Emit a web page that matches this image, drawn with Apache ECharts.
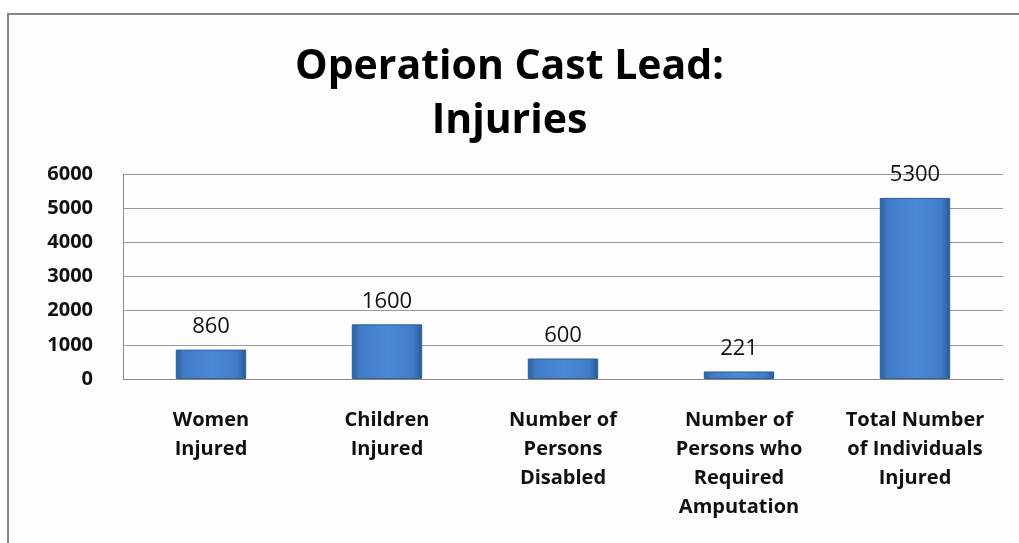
<!DOCTYPE html>
<html>
<head>
<meta charset="utf-8">
<script src="https://cdn.jsdelivr.net/npm/echarts@6/dist/echarts.min.js"></script>
<style>
  html, body { margin: 0; padding: 0; background: #fff; }
  #chart { width: 1019px; height: 543px; }
</style>
</head>
<body>
<div id="chart"></div>
<script>
// data
const categories = [
  'Women\nInjured',
  'Children\nInjured',
  'Number of\nPersons\nDisabled',
  'Number of\nPersons who\nRequired\nAmputation',
  'Total Number\nof Individuals\nInjured'
]
const injuries = [860, 1600, 600, 221, 5300]
const yTicks = [0, 1000, 2000, 3000, 4000, 5000, 6000]

const font = '"Open Sans", "Noto Sans", sans-serif'

let myChart = echarts.init(document.getElementById('chart'))
let option = {
  backgroundColor: '#ffffff',
  animation: false,
  title: {
    text: 'Operation Cast Lead:\nInjuries',
    left: 'center',
    top: 35,
    textStyle: {
      fontFamily: font,
      fontWeight: 'bold',
      fontSize: 41,
      lineHeight: 54,
      color: '#000'
    }
  },
  graphic: [
    {
      // outer chart frame
      type: 'rect',
      z: -10,
      shape: { x: 8, y: 14, width: 1030, height: 560 },
      style: { fill: '#fdfdfd', stroke: '#858585', lineWidth: 2 }
    }
  ],
  grid: {
    left: 123,
    right: 16,
    top: 174,
    bottom: 164
  },
  xAxis: {
    type: 'category',
    data: categories,
    axisLine: { show: true, lineStyle: { color: '#8c8c8c', width: 1 } },
    axisTick: { show: false },
    axisLabel: {
      interval: 0,
      margin: 27,
      fontFamily: font,
      fontWeight: 'bold',
      fontSize: 20,
      lineHeight: 29,
      color: '#111'
    }
  },
  yAxis: {
    type: 'value',
    min: yTicks[0],
    max: yTicks[yTicks.length - 1],
    interval: 1000,
    axisLine: { show: true, lineStyle: { color: '#8c8c8c', width: 1 } },
    axisTick: { show: false },
    splitLine: { lineStyle: { color: '#9a9a9a', width: 1 } },
    axisLabel: {
      margin: 30,
      fontFamily: font,
      fontWeight: 'bold',
      fontSize: 20,
      color: '#111',
      formatter: v => String(v)
    }
  },
  series: [
    {
      name: 'Injuries',
      type: 'bar',
      barWidth: '40%',
      data: injuries,
      itemStyle: {
        color: new echarts.graphic.LinearGradient(0, 0, 1, 0, [
          { offset: 0, color: '#2d5f9e' },
          { offset: 0.12, color: '#3f7bc6' },
          { offset: 0.5, color: '#4d8ad6' },
          { offset: 0.88, color: '#3f7bc6' },
          { offset: 1, color: '#2a5892' }
        ]),
        borderColor: '#2f5f99',
        borderWidth: 1
      },
      label: {
        show: true,
        position: 'top',
        distance: 12,
        fontFamily: font,
        fontSize: 22,
        color: '#111'
      }
    }
  ]
}
myChart.setOption(option)
</script>
</body>
</html>
